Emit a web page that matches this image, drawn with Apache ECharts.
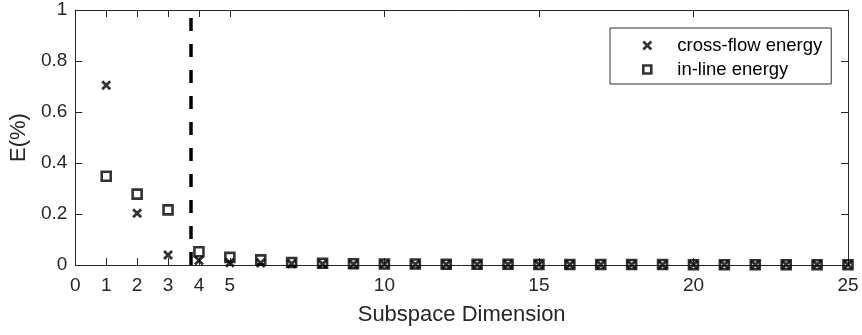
<!DOCTYPE html>
<html>
<head>
<meta charset="utf-8">
<script src="https://cdn.jsdelivr.net/npm/echarts@6/dist/echarts.min.js"></script>
<style>
html,body{margin:0;padding:0;background:#fff;}
#chart{width:862px;height:335px;}
</style>
</head>
<body>
<div id="chart"></div>
<script>
var dims = [1,2,3,4,5,6,7,8,9,10,11,12,13,14,15,16,17,18,19,20,21,22,23,24,25];
var crossFlow = [0.705,0.203,0.039,0.018,0.009,0.008,0.005,0.004,0.003,0.003,0.002,0.002,0.002,0.002,0.002,0.001,0.001,0.001,0.001,0.001,0.001,0.001,0.001,0.001,0.001];
var inLine = [0.348,0.278,0.216,0.052,0.030,0.020,0.010,0.007,0.005,0.004,0.004,0.003,0.003,0.003,0.002,0.002,0.002,0.002,0.002,0.001,0.001,0.001,0.001,0.001,0.001];
var xTicks = [0,1,2,3,4,5,10,15,20,25];
var cutoff = 3.72;
var seriesNames = ['cross-flow energy','in-line energy'];

var FONT = '"Liberation Sans", Arial, Helvetica, sans-serif';
var AX = '#262626';

function pairs(xs, ys){ return xs.map(function(x,i){ return [x, ys[i]]; }); }

var chart = echarts.init(document.getElementById('chart'), null, {renderer:'canvas'});
chart.setOption({
  animation:false,
  backgroundColor:'#fff',
  grid:{left:74,right:14,top:10,bottom:70,containLabel:false},
  legend:{
    orient:'vertical',
    left:610, top:28,
    padding:[8,9,5,32],
    itemGap:5,
    itemWidth:50, itemHeight:8,
    symbolKeepAspect:true,
    borderColor:'#333', borderWidth:1,
    backgroundColor:'#fff',
    itemStyle:{borderWidth:2.6,borderColor:'#000'},
    textStyle:{fontFamily:FONT,fontSize:18.5,color:'#000'},
    data:seriesNames
  },
  xAxis:[{
    type:'value', min:0, max:25, interval:1,
    name:'Subspace Dimension', nameLocation:'middle', nameGap:39,
    nameTextStyle:{fontFamily:FONT,fontSize:22,color:AX},
    axisLine:{show:true,onZero:false,lineStyle:{color:AX,width:1}},
    axisTick:{show:true,inside:true,length:7,customValues:xTicks,lineStyle:{color:AX}},
    axisLabel:{show:true,margin:11,customValues:xTicks,fontFamily:FONT,fontSize:19,color:AX},
    splitLine:{show:false}
  },{
    type:'value', min:0, max:25, position:'top',
    axisLine:{show:true,onZero:false,lineStyle:{color:AX,width:1}},
    axisTick:{show:true,inside:true,length:7,customValues:xTicks,lineStyle:{color:AX}},
    axisLabel:{show:false},
    splitLine:{show:false}
  }],
  yAxis:[{
    type:'value', min:0, max:1, interval:0.2,
    name:'E(%)', nameLocation:'middle', nameGap:41, nameRotate:90,
    nameTextStyle:{fontFamily:FONT,fontSize:22,color:AX},
    axisLine:{show:true,onZero:false,lineStyle:{color:AX,width:1}},
    axisTick:{show:true,inside:true,length:7,lineStyle:{color:AX}},
    axisLabel:{margin:8,fontFamily:FONT,fontSize:19,color:AX},
    splitLine:{show:false}
  },{
    type:'value', min:0, max:1, interval:0.2, position:'right',
    axisLine:{show:true,onZero:false,lineStyle:{color:AX,width:1}},
    axisTick:{show:true,inside:true,length:7,lineStyle:{color:AX}},
    axisLabel:{show:false},
    splitLine:{show:false}
  }],
  series:[{
    name:seriesNames[0],
    type:'scatter',
    symbol:'path://M0,0L10,10M10,0L0,10',
    symbolSize:8,
    symbolKeepAspect:true,
    itemStyle:{color:'#000',borderColor:'#000',borderWidth:2.8},
    data:pairs(dims, crossFlow),
    z:3,
    markLine:{
      silent:true,
      symbol:['none','none'],
      label:{show:false},
      lineStyle:{color:'#000',width:3.5,type:[13,13]},
      data:[[{coord:[cutoff,0]},{coord:[cutoff,1]}]]
    }
  },{
    name:seriesNames[1],
    type:'scatter',
    symbol:'path://M0,0L10,0L10,10L0,10Z',
    symbolSize:9,
    symbolKeepAspect:true,
    itemStyle:{color:'rgba(255,255,255,0)',borderColor:'#000',borderWidth:2.6},
    data:pairs(dims, inLine),
    z:4
  }]
});
</script>
</body>
</html>
